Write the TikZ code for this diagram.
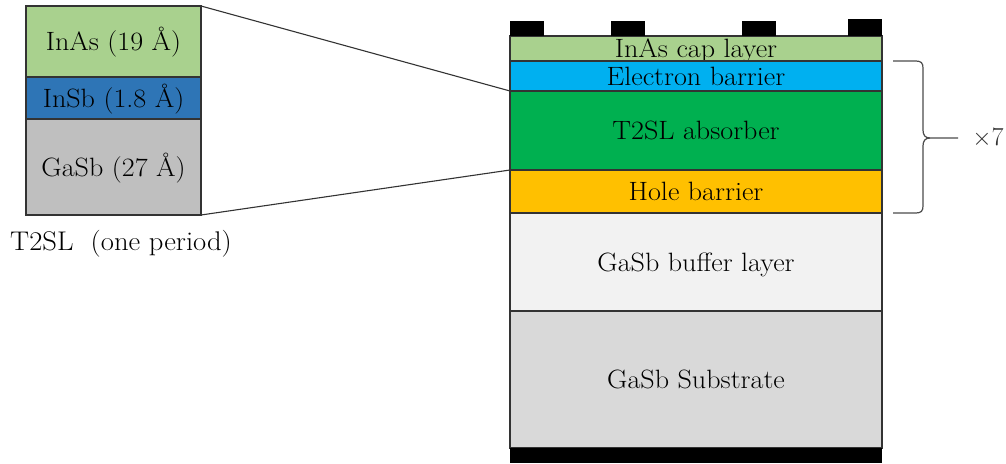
\documentclass[tikz,border=0pt]{standalone}
\usepackage{fontspec}
\usepackage{graphicx}
\definecolor{cInAs}{HTML}{A9D18E}
\definecolor{cInSb}{HTML}{2E75B6}
\definecolor{cGaSb}{HTML}{BFBFBF}
\definecolor{cEB}{HTML}{00B0F0}
\definecolor{cAbs}{HTML}{00B050}
\definecolor{cHB}{HTML}{FFC000}
\definecolor{cBuf}{HTML}{F2F2F2}
\definecolor{cSub}{HTML}{D9D9D9}
\newcommand\widetxt[1]{\scalebox{1.06}[1]{#1}}
\begin{document}
\begin{tikzpicture}[x=1pt,y=-1pt,
  layer/.style={draw=black!80, line width=1.1pt, inner sep=0pt, outer sep=0pt,
    minimum width=372pt, text height=18pt, text depth=0pt,
    font=\fontsize{26.5}{30}\selectfont},
  sllayer/.style={layer, minimum width=175pt},
  contact/.style={fill=black, draw=none, inner sep=0pt, outer sep=0pt, minimum width=34pt},
  link/.style={draw=black!80, line width=1.1pt},
  bracestyle/.style={draw=black!70, line width=1.2pt},
  lbl/.style={inner sep=0pt, font=\fontsize{27}{30}\selectfont},
]
\useasboundingbox (0,0) rectangle (1006,463);

% left stack (one period)
\node[sllayer, fill=cInAs, minimum height=71pt] (linas) at (113.5,41.5) {\widetxt{InAs (19 Å)}};
\node[sllayer, fill=cInSb, minimum height=42pt] (linsb) at (113.5,98) {\widetxt{InSb (1.8 Å)}};
\node[sllayer, fill=cGaSb, minimum height=96pt] (lgasb) at (113.5,167) {\widetxt{GaSb (27 Å)}};
\node[lbl, anchor=base] (period) at (121,250) {\widetxt{T2SL\hspace{0.6em}(one period)}};

% right stack
\node[layer, fill=cInAs, minimum height=25pt] (cap) at (696,48.5) {\widetxt{InAs cap layer}};
\node[layer, fill=cEB, minimum height=30pt] (eb) at (696,76) {\widetxt{Electron barrier}};
\node[layer, fill=cAbs, minimum height=79pt] (abs) at (696,130.5) {\widetxt{T2SL absorber}};
\node[layer, fill=cHB, minimum height=43pt] (hb) at (696,191.5) {\widetxt{Hole barrier}};
\node[layer, fill=cBuf, minimum height=98pt] (buf) at (696,262) {\widetxt{GaSb buffer layer}};
\node[layer, fill=cSub, minimum height=137pt] (sub) at (696,379.5) {\widetxt{GaSb Substrate}};

% contacts
\node[contact, minimum height=15pt] (c1) at (527,28.5) {};
\node[contact, minimum height=15pt] (c2) at (627.5,28.5) {};
\node[contact, minimum height=15pt] (c3) at (759,28.5) {};
\node[contact, minimum height=17pt] (c4) at (865,27.5) {};
\node[contact, minimum width=372pt, minimum height=15pt] (cb) at (696,455.5) {};

% zoom lines
\draw[link] (linas.north east) -- (abs.north west);
\draw[link] (lgasb.south east) -- (hb.north west);

% brace
\coordinate (btop) at (893,61);
\coordinate (bbot) at (893,213);
\coordinate (btip) at (958,138);
\draw[bracestyle] (btop) -- (916,61) .. controls (921,61) and (923,63) .. (923,68)
  -- (923,130) .. controls (923,135) and (925,138) .. (930,138) -- (btip);
\draw[bracestyle] (bbot) -- (916,213) .. controls (921,213) and (923,211) .. (923,206)
  -- (923,146) .. controls (923,141) and (925,138) .. (930,138);
\node[inner sep=0pt, anchor=base, font=\fontsize{26}{30}\selectfont, text=black!80] (times) at (988,145) {$\times$7};
\end{tikzpicture}
\end{document}
